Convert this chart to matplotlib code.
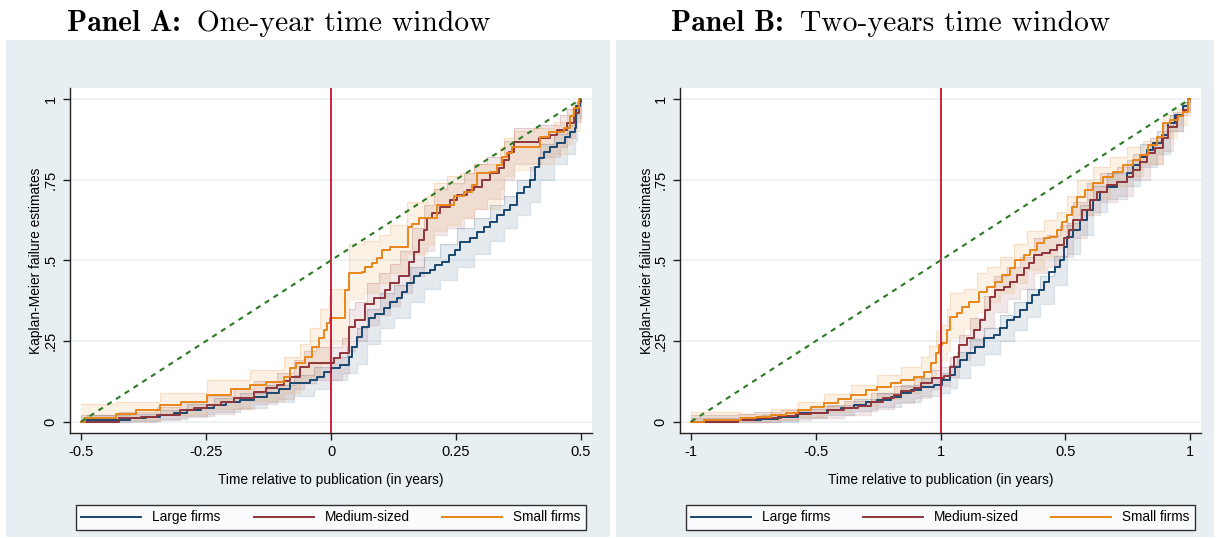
import matplotlib
matplotlib.use("Agg")
import matplotlib.pyplot as plt
from matplotlib.patches import Rectangle

# ---- Panel A: one-year window, Kaplan-Meier failure estimates ----
a_large_t = [-0.5, -0.489, -0.402, -0.37, -0.342, -0.315, -0.289, -0.26, -0.235, -0.21, -0.182, -0.155,
             -0.129, -0.105, -0.082, -0.042, -0.029, -0.015, 0.0, 0.018, 0.035, 0.041, 0.051, 0.061, 0.075,
             0.088, 0.105, 0.118, 0.131, 0.141, 0.151, 0.165, 0.178, 0.198, 0.208, 0.221, 0.235, 0.248,
             0.258, 0.278, 0.291, 0.305, 0.318, 0.331, 0.345, 0.358, 0.371, 0.385, 0.398, 0.408, 0.415,
             0.425, 0.438, 0.451, 0.468, 0.478, 0.488, 0.49, 0.498]
a_large_f = [0, 0.005, 0.01, 0.015, 0.02, 0.028, 0.036, 0.044, 0.052, 0.06, 0.067, 0.078, 0.088, 0.1,
             0.119, 0.129, 0.14, 0.155, 0.165, 0.175, 0.2, 0.232, 0.263, 0.294, 0.32, 0.335, 0.351, 0.371,
             0.382, 0.403, 0.429, 0.45, 0.46, 0.47, 0.486, 0.496, 0.517, 0.532, 0.558, 0.568, 0.589, 0.604,
             0.62, 0.641, 0.656, 0.672, 0.708, 0.728, 0.749, 0.79, 0.816, 0.837, 0.852, 0.863, 0.883, 0.899,
             0.91, 0.977, 1.0]

a_med_t = [-0.5, -0.425, -0.38, -0.349, -0.302, -0.275, -0.249, -0.22, -0.195, -0.155, -0.13, -0.109,
           -0.095, -0.082, -0.062, -0.045, 0.005, 0.018, 0.035, 0.048, 0.068, 0.085, 0.108, 0.118, 0.135,
           0.155, 0.165, 0.175, 0.185, 0.191, 0.201, 0.218, 0.238, 0.251, 0.271, 0.285, 0.301, 0.318, 0.335,
           0.345, 0.355, 0.365, 0.415, 0.438, 0.451, 0.471, 0.485, 0.495, 0.5]
a_med_f = [0, 0.01, 0.015, 0.02, 0.036, 0.044, 0.052, 0.062, 0.072, 0.093, 0.103, 0.114, 0.125, 0.14,
           0.171, 0.181, 0.196, 0.212, 0.294, 0.315, 0.366, 0.382, 0.408, 0.429, 0.45, 0.496, 0.527, 0.563,
           0.594, 0.63, 0.646, 0.666, 0.687, 0.703, 0.718, 0.728, 0.749, 0.77, 0.785, 0.811, 0.837, 0.868,
           0.878, 0.889, 0.904, 0.925, 0.956, 0.992, 1.0]

a_small_t = [-0.5, -0.492, -0.43, -0.39, -0.342, -0.3, -0.249, -0.2, -0.162, -0.13, -0.095, -0.082, -0.07,
             -0.052, -0.039, -0.025, -0.015, -0.009, -0.002, 0.028, 0.035, 0.061, 0.068, 0.081, 0.091,
             0.101, 0.118, 0.153, 0.161, 0.175, 0.211, 0.245, 0.265, 0.281, 0.291, 0.318, 0.331, 0.341,
             0.351, 0.361, 0.418, 0.435, 0.465, 0.478, 0.485, 0.495]
a_small_f = [0, 0.01, 0.023, 0.035, 0.052, 0.062, 0.083, 0.1, 0.114, 0.122, 0.14, 0.165, 0.181, 0.202,
             0.233, 0.258, 0.284, 0.305, 0.32, 0.408, 0.462, 0.465, 0.48, 0.491, 0.506, 0.532, 0.542, 0.604,
             0.614, 0.63, 0.672, 0.698, 0.713, 0.734, 0.77, 0.775, 0.796, 0.821, 0.832, 0.852, 0.883, 0.899,
             0.909, 0.946, 0.972, 1.0]

# 95% confidence bands, panel A
a_large_ci_t = [-0.5, -0.489, -0.402, -0.342, -0.289, -0.235, -0.182, -0.129, -0.075, -0.035, 0.0, 0.031,
                0.051, 0.071, 0.098, 0.125, 0.158, 0.185, 0.218, 0.251, 0.285, 0.318, 0.345, 0.371, 0.398,
                0.418, 0.445, 0.471, 0.488, 0.491, 0.5]
a_large_lo = [0, 0, 0.002, 0.008, 0.018, 0.03, 0.042, 0.06, 0.08, 0.1, 0.13, 0.15, 0.18, 0.24, 0.29, 0.32,
              0.37, 0.41, 0.44, 0.48, 0.52, 0.56, 0.6, 0.64, 0.68, 0.75, 0.8, 0.83, 0.87, 0.94, 1.0]
a_large_hi = [0.015, 0.02, 0.025, 0.035, 0.055, 0.075, 0.09, 0.115, 0.145, 0.17, 0.2, 0.235, 0.29, 0.35,
              0.4, 0.425, 0.48, 0.51, 0.55, 0.6, 0.63, 0.67, 0.7, 0.75, 0.79, 0.86, 0.89, 0.92, 0.95, 0.99,
              1.0]
a_med_ci_t = [-0.5, -0.425, -0.349, -0.302, -0.249, -0.195, -0.155, -0.109, -0.075, -0.055, -0.03, 0.021,
              0.035, 0.048, 0.071, 0.095, 0.118, 0.138, 0.161, 0.185, 0.205, 0.231, 0.265, 0.285, 0.311,
              0.345, 0.365, 0.418, 0.458, 0.471, 0.488, 0.5]
a_med_lo = [0, 0, 0.005, 0.015, 0.025, 0.04, 0.055, 0.07, 0.1, 0.12, 0.13, 0.15, 0.22, 0.25, 0.3, 0.33,
            0.36, 0.4, 0.45, 0.53, 0.58, 0.6, 0.63, 0.66, 0.69, 0.75, 0.8, 0.82, 0.85, 0.88, 0.93, 1.0]
a_med_hi = [0.02, 0.03, 0.045, 0.06, 0.08, 0.1, 0.125, 0.15, 0.19, 0.22, 0.23, 0.26, 0.35, 0.37, 0.43,
            0.46, 0.49, 0.53, 0.6, 0.67, 0.72, 0.74, 0.77, 0.8, 0.82, 0.87, 0.91, 0.92, 0.95, 0.97, 0.99, 1.0]
a_small_ci_t = [-0.5, -0.492, -0.43, -0.342, -0.249, -0.162, -0.095, -0.062, -0.042, -0.022, -0.005, 0.0,
                0.035, 0.065, 0.095, 0.118, 0.151, 0.191, 0.205, 0.231, 0.258, 0.285, 0.338, 0.345, 0.365,
                0.405, 0.445, 0.471, 0.481, 0.498]
a_small_lo = [0, 0, 0.005, 0.02, 0.04, 0.065, 0.09, 0.12, 0.14, 0.18, 0.22, 0.24, 0.38, 0.4, 0.43, 0.46,
              0.52, 0.55, 0.59, 0.61, 0.63, 0.66, 0.72, 0.76, 0.78, 0.8, 0.83, 0.86, 0.9, 1.0]
a_small_hi = [0.055, 0.055, 0.06, 0.09, 0.13, 0.16, 0.2, 0.24, 0.29, 0.35, 0.39, 0.41, 0.55, 0.56, 0.58,
              0.61, 0.68, 0.7, 0.74, 0.76, 0.77, 0.8, 0.85, 0.88, 0.9, 0.91, 0.93, 0.95, 0.98, 1.0]

# ---- Panel B: two-years window ----
b_large_t = [-1, -0.813, -0.72, -0.65, -0.573, -0.453, -0.4, -0.347, -0.3, -0.253, -0.2, -0.16, -0.12,
             -0.08, -0.027, 0.007, 0.04, 0.06, 0.08, 0.107, 0.14, 0.173, 0.213, 0.24, 0.267, 0.293, 0.32,
             0.347, 0.367, 0.393, 0.413, 0.433, 0.46, 0.48, 0.493, 0.507, 0.533, 0.56, 0.587, 0.613, 0.64,
             0.667, 0.707, 0.747, 0.773, 0.8, 0.827, 0.853, 0.887, 0.913, 0.94, 0.973, 0.993]
b_large_f = [0, 0.004, 0.008, 0.015, 0.026, 0.036, 0.044, 0.052, 0.06, 0.067, 0.078, 0.088, 0.098, 0.108,
             0.113, 0.129, 0.145, 0.171, 0.191, 0.212, 0.233, 0.258, 0.269, 0.289, 0.315, 0.325, 0.346,
             0.367, 0.392, 0.408, 0.434, 0.465, 0.48, 0.501, 0.542, 0.573, 0.594, 0.625, 0.656, 0.687,
             0.713, 0.728, 0.744, 0.77, 0.796, 0.821, 0.842, 0.863, 0.888, 0.925, 0.951, 0.977, 1.0]

b_med_t = [-1, -0.813, -0.747, -0.64, -0.58, -0.52, -0.45, -0.387, -0.33, -0.28, -0.23, -0.187, -0.16,
           -0.107, -0.08, -0.033, 0.013, 0.04, 0.053, 0.073, 0.107, 0.133, 0.16, 0.18, 0.2, 0.22, 0.253,
           0.28, 0.307, 0.333, 0.353, 0.373, 0.407, 0.44, 0.467, 0.493, 0.513, 0.533, 0.567, 0.6, 0.627,
           0.667, 0.707, 0.747, 0.773, 0.8, 0.827, 0.86, 0.893, 0.913, 0.947, 0.973, 0.993]
b_med_f = [0, 0.005, 0.01, 0.018, 0.023, 0.028, 0.035, 0.041, 0.05, 0.062, 0.072, 0.083, 0.095, 0.103,
           0.119, 0.134, 0.142, 0.171, 0.202, 0.238, 0.258, 0.284, 0.315, 0.346, 0.387, 0.408, 0.418,
           0.434, 0.455, 0.475, 0.491, 0.517, 0.522, 0.532, 0.548, 0.568, 0.594, 0.625, 0.656, 0.687,
           0.713, 0.734, 0.744, 0.759, 0.78, 0.806, 0.832, 0.847, 0.878, 0.914, 0.946, 0.966, 1.0]

b_small_t = [-1, -0.947, -0.8, -0.74, -0.68, -0.62, -0.573, -0.52, -0.467, -0.41, -0.36, -0.3, -0.253,
             -0.2, -0.16, -0.107, -0.067, -0.04, -0.02, -0.007, 0.007, 0.027, 0.037, 0.067, 0.087, 0.113,
             0.153, 0.187, 0.22, 0.247, 0.28, 0.3, 0.333, 0.36, 0.387, 0.413, 0.44, 0.467, 0.487, 0.507,
             0.527, 0.547, 0.58, 0.613, 0.653, 0.693, 0.733, 0.773, 0.8, 0.833, 0.867, 0.893, 0.92, 0.953,
             0.973, 0.993]
b_small_f = [0, 0.005, 0.01, 0.015, 0.02, 0.028, 0.036, 0.045, 0.057, 0.07, 0.083, 0.097, 0.108, 0.12,
             0.129, 0.14, 0.155, 0.181, 0.212, 0.238, 0.243, 0.284, 0.325, 0.336, 0.356, 0.372, 0.403,
             0.418, 0.434, 0.455, 0.475, 0.501, 0.517, 0.532, 0.553, 0.568, 0.573, 0.594, 0.62, 0.641,
             0.666, 0.697, 0.718, 0.739, 0.759, 0.775, 0.796, 0.811, 0.826, 0.857, 0.883, 0.925, 0.935,
             0.946, 0.961, 1.0]

# 95% confidence bands, panel B
b_large_ci_t = [-1, -0.813, -0.72, -0.573, -0.453, -0.347, -0.253, -0.16, -0.08, 0.0, 0.04, 0.067, 0.12,
                0.173, 0.24, 0.293, 0.347, 0.4, 0.453, 0.507, 0.56, 0.613, 0.667, 0.747, 0.8, 0.867, 0.92,
                0.973, 1.0]
b_large_lo = [0, 0, 0, 0.012, 0.02, 0.033, 0.045, 0.062, 0.08, 0.09, 0.105, 0.135, 0.175, 0.21, 0.25,
              0.285, 0.325, 0.365, 0.425, 0.52, 0.58, 0.65, 0.69, 0.73, 0.79, 0.83, 0.9, 0.965, 1.0]
b_large_hi = [0.012, 0.015, 0.02, 0.04, 0.052, 0.07, 0.09, 0.115, 0.135, 0.15, 0.175, 0.215, 0.255, 0.29,
              0.33, 0.37, 0.41, 0.45, 0.515, 0.615, 0.67, 0.73, 0.77, 0.81, 0.86, 0.9, 0.95, 0.99, 1.0]
b_med_ci_t = [-1, -0.813, -0.747, -0.64, -0.52, -0.387, -0.28, -0.187, -0.107, -0.04, 0.0, 0.04, 0.073,
              0.12, 0.173, 0.213, 0.267, 0.32, 0.373, 0.427, 0.48, 0.533, 0.587, 0.64, 0.707, 0.773, 0.84,
              0.893, 0.933, 0.973, 1.0]
b_med_lo = [0, 0, 0, 0.005, 0.012, 0.022, 0.04, 0.058, 0.075, 0.1, 0.11, 0.14, 0.19, 0.23, 0.29, 0.34,
            0.38, 0.41, 0.46, 0.48, 0.51, 0.57, 0.64, 0.68, 0.7, 0.75, 0.8, 0.84, 0.9, 0.95, 1.0]
b_med_hi = [0.02, 0.025, 0.03, 0.035, 0.05, 0.065, 0.09, 0.11, 0.135, 0.16, 0.17, 0.2, 0.27, 0.32, 0.39,
            0.45, 0.48, 0.51, 0.57, 0.58, 0.61, 0.68, 0.74, 0.77, 0.79, 0.83, 0.88, 0.92, 0.96, 0.99, 1.0]
b_small_ci_t = [-1, -0.947, -0.8, -0.68, -0.573, -0.467, -0.36, -0.253, -0.16, -0.08, -0.047, -0.02, 0.0,
                0.027, 0.04, 0.093, 0.147, 0.187, 0.24, 0.293, 0.347, 0.413, 0.467, 0.507, 0.547, 0.613,
                0.68, 0.747, 0.813, 0.893, 0.947, 0.987, 1.0]
b_small_lo = [0, 0, 0, 0.005, 0.015, 0.03, 0.05, 0.07, 0.09, 0.11, 0.14, 0.17, 0.19, 0.22, 0.26, 0.29,
              0.34, 0.37, 0.4, 0.43, 0.47, 0.51, 0.54, 0.59, 0.64, 0.69, 0.73, 0.76, 0.8, 0.88, 0.92, 0.96,
              1.0]
b_small_hi = [0.03, 0.03, 0.025, 0.04, 0.06, 0.085, 0.115, 0.145, 0.17, 0.2, 0.235, 0.28, 0.3, 0.35, 0.4,
              0.41, 0.46, 0.48, 0.51, 0.55, 0.59, 0.625, 0.65, 0.7, 0.75, 0.79, 0.82, 0.85, 0.87, 0.95,
              0.97, 0.99, 1.0]

group_names = ["Large firms", "Medium-sized", "Small firms"]
group_colors = ["#1a476f", "#90353b", "#e8861a"]

a_ticks = [-0.5, -0.25, 0, 0.25, 0.5]
a_ticklabels = ["-0.5", "-0.25", "0", "0.25", "0.5"]
b_ticks = [-1, -0.5, 0, 0.5, 1]
b_ticklabels = ["-1", "-0.5", "1", "0.5", "1"]
y_ticks = [0, 0.25, 0.5, 0.75, 1]
y_ticklabels = ["0", ".25", ".5", ".75", "1"]

W, H = 1217, 538
BG = "#e8eff2"
SANS = "Liberation Sans"

fig = plt.figure(figsize=(W / 100, H / 100), dpi=100)
fig.patch.set_facecolor("white")


def px_box(x0, x1, y0, y1):
    # pixel edges (top-left origin) -> figure fraction rect
    return [x0 / W, 1 - y1 / H, (x1 - x0) / W, (y1 - y0) / H]


def draw_panel(x0, x1, ax_x0, ax_x1, curves, bands, ticks, ticklabels, span):
    fig.patches.append(Rectangle((x0 / W, 1 - 537 / H), (x1 - x0) / W, (537 - 40) / H,
                                 transform=fig.transFigure, facecolor=BG, edgecolor="none", zorder=-1))
    ax = fig.add_axes(px_box(ax_x0, ax_x1, 88, 432.7))
    ax.set_facecolor("white")

    for (t, lo, hi), c in zip(bands, group_colors):
        ax.fill_between(t, lo, hi, step="post", color=c, alpha=0.11, lw=0, zorder=1)
        ax.step(t, lo, where="post", color=c, alpha=0.16, lw=0.9, zorder=1)
        ax.step(t, hi, where="post", color=c, alpha=0.16, lw=0.9, zorder=1)
    for (t, f), c, name in zip(curves, group_colors, group_names):
        ax.step(t + [span], f + [1.0], where="post", color=c, lw=1.4, label=name, zorder=3)

    ax.axvline(0, color="#c8102e", lw=1.3, zorder=4)
    ax.plot([-span, span], [0, 1], color="#2a7a22", lw=1.5, ls=(0, (2.5, 2.5)), zorder=5)

    ax.set_xlim(-span * 1.044, span * 1.044)
    ax.set_ylim(-0.034, 1.034)
    ax.set_xticks(ticks)
    ax.set_xticklabels(ticklabels)
    ax.set_yticks(y_ticks)
    ax.set_yticklabels(y_ticklabels, rotation=90, va="center")
    ax.grid(axis="y", color="#eaf1f4", lw=1.2, zorder=0)
    ax.set_axisbelow(True)
    for s in ["top", "right"]:
        ax.spines[s].set_visible(False)
    for s in ["left", "bottom"]:
        ax.spines[s].set_color("#222222")
        ax.spines[s].set_linewidth(1.0)
    ax.tick_params(direction="out", length=5, width=1, color="#222222", labelsize=10.5, pad=4)
    for lab in ax.get_xticklabels() + ax.get_yticklabels():
        lab.set_fontfamily(SANS)
    ax.set_xlabel("Time relative to publication (in years)", fontsize=9.9, family=SANS, labelpad=10)
    ax.set_ylabel("Kaplan-Meier failure estimates", fontsize=9.9, family=SANS, labelpad=0)

    leg = ax.legend(loc="lower left", bbox_to_anchor=(0.0115, -0.282, 0.977, 0.09), ncol=3,
                    mode="expand", frameon=True, fancybox=False, handlelength=4.4,
                    borderaxespad=0, prop={"family": SANS, "size": 9.8})
    leg.get_frame().set_edgecolor("black")
    leg.get_frame().set_linewidth(1.0)
    for h in leg.legend_handles:
        h.set_linewidth(1.4)
    return ax


curves_a = [(a_large_t, a_large_f), (a_med_t, a_med_f), (a_small_t, a_small_f)]
bands_a = [(a_large_ci_t, a_large_lo, a_large_hi), (a_med_ci_t, a_med_lo, a_med_hi),
           (a_small_ci_t, a_small_lo, a_small_hi)]
curves_b = [(b_large_t, b_large_f), (b_med_t, b_med_f), (b_small_t, b_small_f)]
bands_b = [(b_large_ci_t, b_large_lo, b_large_hi), (b_med_ci_t, b_med_lo, b_med_hi),
           (b_small_ci_t, b_small_lo, b_small_hi)]

draw_panel(6, 610, 70, 592, curves_a, bands_a, a_ticks, a_ticklabels, 0.5)
draw_panel(616, 1214, 680, 1201, curves_b, bands_b, b_ticks, b_ticklabels, 1.0)

# panel headings: bold lead-in followed by regular text
renderer = fig.canvas.get_renderer()
for x_start, lead, rest in [(67, "Panel A:", " One-year time window"),
                            (671, "Panel B:", " Two-years time window")]:
    t1 = fig.text(x_start / W, 1 - 31 / H, lead, family="cmb10", fontsize=21.3, ha="left", va="baseline")
    bb = t1.get_window_extent(renderer)
    fig.text(bb.x1 / W + 0.005, 1 - 31 / H, rest, family="cmr10", fontsize=21.3, ha="left", va="baseline")

fig.savefig("out.png", dpi=100, facecolor="white")
